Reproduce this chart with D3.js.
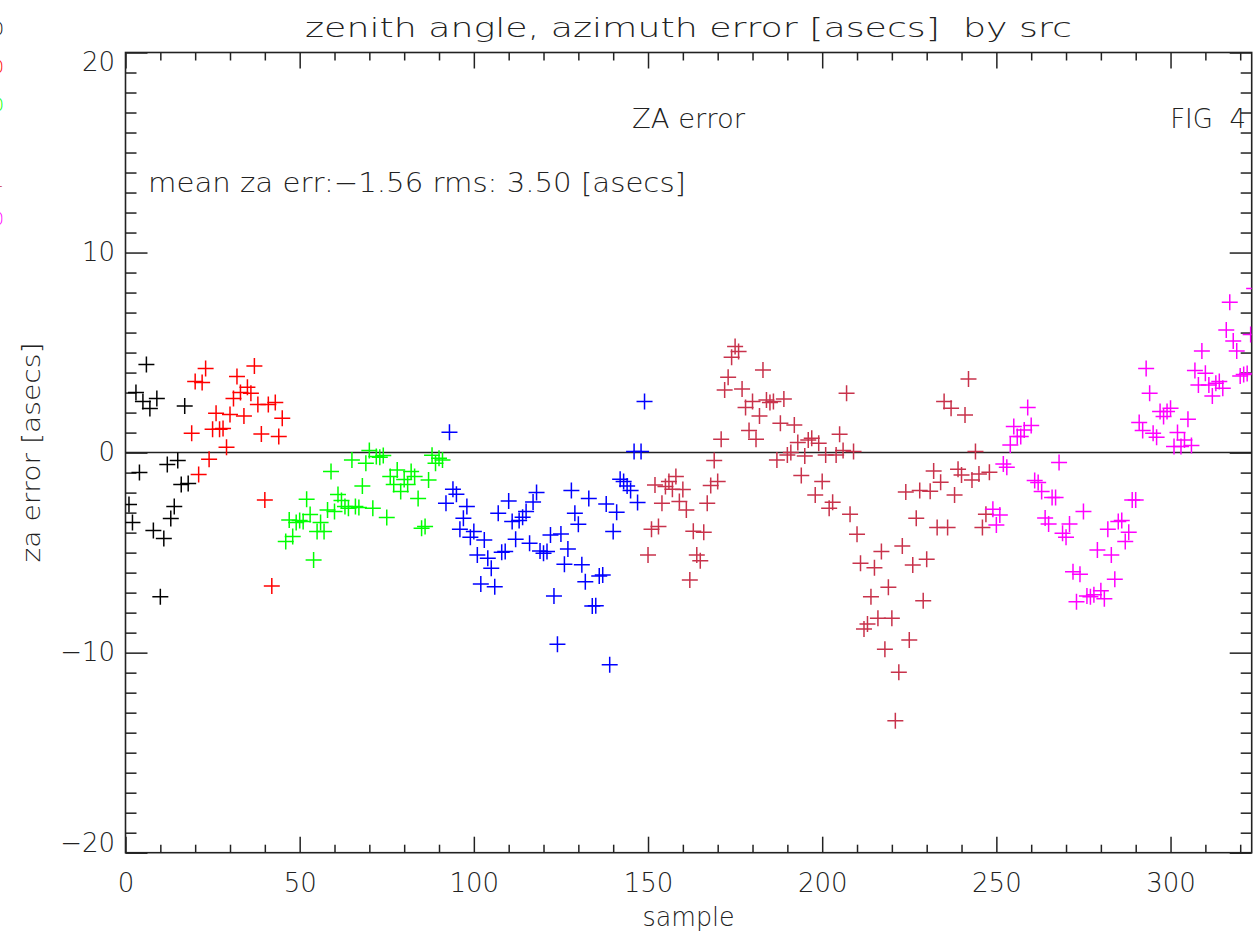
<!DOCTYPE html>
<html><head><meta charset="utf-8">
<script src="https://cdn.jsdelivr.net/npm/d3@7"></script>
<style>
body{margin:0;background:#fff}
svg{display:block}
text{font-family:"DejaVu Sans","Liberation Sans",sans-serif;font-weight:200;fill:#222;white-space:pre}
</style>
</head><body>
<svg id="chart" width="1259" height="939"></svg>
<script>
// ---------------- data ----------------
const sourceLabels = ["src 1: 0", "src 2: 0", "src 3: 0", "src 4:\u00a0\u00a0", "src 5: 1", "src 6: 0"];
const startSample = [1, 19, 46, 92, 150, 249];

const zaErrSrc0 = [-2.6,-3.5,3.0,-1.0,2.55,4.4,2.2,-3.9,2.7,-7.2,-4.3,-0.6,-3.3,-2.7,-0.4,-1.6,2.33,-1.55];
const zaErrSrc1 = [0.97,3.55,-1.1,3.5,4.2,-0.33,1.17,1.97,1.17,1.2,0.27,1.9,2.7,3.8,3.0,1.83,3.27,2.97,4.33,2.4,0.93,-2.37,2.4,-6.67,2.5,0.8,1.72];
const zaErrSrc2 = [-4.45,-3.37,-4.2,-3.5,-3.4,-3.45,-2.33,-3.1,-5.37,-3.95,-3.5,-3.95,-2.87,-0.95,-2.95,-2.1,-2.4,-2.7,-2.78,-0.37,-2.7,-2.75,-1.67,-0.53,0.1,-2.78,-0.2,-0.23,-0.15,-3.25,-1.2,-1.6,-0.87,-1.95,-1.35,-1.6,-0.95,-1.2,-2.3,-3.78,-3.7,-1.37,-0.13,-0.53,-0.28,-0.37];
const zaErrSrc3 = [-2.53,1.02,-1.83,-2.08,-3.83,-3.28,-2.7,-4.23,-3.95,-5.12,-6.57,-4.37,-5.28,-5.78,-6.7,-3.03,-4.98,-4.95,-2.42,-3.45,-4.33,-3.4,-3.23,-2.95,-4.53,-2.47,-2.0,-4.92,-5.03,-4.95,-4.12,-7.17,-9.58,-4.07,-5.58,-4.82,-1.9,-3.03,-3.58,-5.6,-6.45,-2.3,-7.67,-7.65,-6.17,-6.12,-2.57,-10.6,-3.95,-2.98,-1.33,-1.45,-1.67,-1.9,0.05,-2.5,0.05,2.55];
const zaErrSrc4 = [-5.12,-3.83,-1.62,-3.7,-2.53,-1.7,-1.45,-1.83,-1.2,-2.45,-1.85,-2.87,-6.37,-3.93,-5.12,-5.4,-3.98,-2.53,-1.65,-0.4,-1.45,0.67,3.13,3.77,4.77,5.3,5.05,3.18,2.25,1.1,2.55,0.67,1.83,4.13,2.63,2.5,2.55,-0.37,1.47,2.68,-0.12,0.0,1.38,0.5,-1.15,-0.17,0.63,0.72,-2.12,0.47,-1.45,-0.12,-2.78,-2.48,-0.12,0.92,0.1,2.97,-3.08,0.05,-4.08,-5.53,-8.82,-8.57,-7.2,-5.75,-8.28,-4.95,-9.83,-6.73,-8.28,-13.4,-10.98,-4.67,-1.97,-9.37,-5.62,-3.28,-1.9,-7.4,-5.33,-1.93,-0.92,-3.75,-1.48,2.55,-3.75,2.22,-2.12,-0.83,-1.12,1.88,3.68,-1.37,0.05,-1.07,-3.75,-3.08,-0.98];
const zaErrSrc5 = [-2.83,-3.62,-3.12,-0.57,-0.73,0.38,1.3,0.8,0.8,1.13,2.25,1.35,-1.4,-1.5,-1.95,-3.27,-3.57,-2.25,-2.25,-0.5,-4.03,-4.23,-3.57,-5.95,-7.45,-6.08,-2.95,-7.17,-7.2,-7.1,-4.87,-6.9,-7.3,-3.83,-5.12,-6.33,-3.45,-3.4,-4.45,-3.98,-2.37,-2.37,1.5,1.1,4.2,2.97,0.97,0.77,2.05,1.8,2.05,2.22,0.3,1.0,0.3,0.63,1.67,0.35,4.1,3.38,5.08,3.97,3.38,2.83,3.47,3.55,3.22,6.13,7.52,5.58,5.08,3.83,3.9,3.95,5.9,8.2];

const seriesValues = [zaErrSrc0, zaErrSrc1, zaErrSrc2, zaErrSrc3, zaErrSrc4, zaErrSrc5];
const xMajorTicks = [0, 50, 100, 150, 200, 250, 300];
const yMajorTicks = [-20, -10, 0, 10, 20];
const xDomain = [0, 323.3];
const yDomain = [-20, 20];

const titleText = "zenith angle, azimuth error [asecs]  by src";
const xLabelText = "sample";
const yLabelText = "za error [asecs]";
const panelText = "ZA error";
const figText = "FIG  4";
const statsText = "mean za err:\u22121.56 rms: 3.50 [asecs]";

// ---------------- styles ----------------
const colors = ["#000000", "#ff0000", "#00ff00", "#0000ff", "#c8324b", "#ff00ff"];
const W = 1259, H = 939;
const L = 125.5, R = 1251.7, T = 52.5, B = 852.7;
const FS = 26;

const svg = d3.select("#chart");
svg.append("rect").attr("width", W).attr("height", H).attr("fill", "#fff");

const x = d3.scaleLinear().domain(xDomain).range([L, R]);
const y = d3.scaleLinear().domain(yDomain).range([B, T]);

const fmt = d => d < 0 ? "\u2212" + Math.abs(d) : String(d);
const xMinor = d3.range(0, 321, 10).filter(v => !xMajorTicks.includes(v));
const yMinor = d3.range(-20, 21, 1).filter(v => !yMajorTicks.includes(v));

function styleAxis(g) {
  g.select(".domain").remove();
  g.selectAll(".tick line").attr("stroke", "#222").attr("stroke-width", 1.5);
  g.selectAll(".tick text").attr("font-size", FS).attr("fill", "#222")
    .attr("font-family", null).style("font-weight", 200);
}

// bottom axis
svg.append("g").attr("transform", `translate(0,${B})`)
  .call(d3.axisBottom(x).tickValues(xMajorTicks).tickSize(-16).tickPadding(20.8).tickFormat(fmt))
  .call(styleAxis);
svg.append("g").attr("transform", `translate(0,${B})`)
  .call(d3.axisBottom(x).tickValues(xMinor).tickSize(-8).tickFormat(""))
  .call(styleAxis);
// top axis
svg.append("g").attr("transform", `translate(0,${T})`)
  .call(d3.axisTop(x).tickValues(xMajorTicks).tickSize(-16).tickFormat(""))
  .call(styleAxis);
svg.append("g").attr("transform", `translate(0,${T})`)
  .call(d3.axisTop(x).tickValues(xMinor).tickSize(-8).tickFormat(""))
  .call(styleAxis);
// left axis
const gl = svg.append("g").attr("transform", `translate(${L},0)`)
  .call(d3.axisLeft(y).tickValues(yMajorTicks).tickSize(-22).tickPadding(10.5).tickFormat(fmt))
  .call(styleAxis);
gl.selectAll(".tick text").attr("dy", d => d === 20 ? "0.7em" : d === -20 ? "-0.06em" : "0.32em");
svg.append("g").attr("transform", `translate(${L},0)`)
  .call(d3.axisLeft(y).tickValues(yMinor).tickSize(-11).tickFormat(""))
  .call(styleAxis);
// right axis
svg.append("g").attr("transform", `translate(${R},0)`)
  .call(d3.axisRight(y).tickValues(yMajorTicks).tickSize(-22).tickFormat(""))
  .call(styleAxis);
svg.append("g").attr("transform", `translate(${R},0)`)
  .call(d3.axisRight(y).tickValues(yMinor).tickSize(-11).tickFormat(""))
  .call(styleAxis);

// frame
svg.append("rect").attr("x", L).attr("y", T).attr("width", R - L).attr("height", B - T)
  .attr("fill", "none").attr("stroke", "#222").attr("stroke-width", 1.6);

// zero line
svg.append("line").attr("x1", L).attr("x2", R).attr("y1", y(0)).attr("y2", y(0))
  .attr("stroke", "#222").attr("stroke-width", 1.5);

// clip
svg.append("defs").append("clipPath").attr("id", "plotclip")
  .append("rect").attr("x", L).attr("y", T).attr("width", R - L).attr("height", B - T);

// points
const points = [];
seriesValues.forEach((vals, si) => {
  vals.forEach((v, i) => points.push({s: startSample[si] + i, v: v, src: si}));
});
const arm = 8;
svg.append("g").attr("clip-path", "url(#plotclip)")
  .selectAll("path").data(points).join("path")
  .attr("d", d => {
    const px = x(d.s), py = y(d.v);
    return `M${px - arm},${py}H${px + arm}M${px},${py - arm}V${py + arm}`;
  })
  .attr("fill", "none")
  .attr("stroke", d => colors[d.src])
  .attr("stroke-width", 1.5);

// texts
svg.append("text").attr("x", 688.5).attr("y", 37).attr("text-anchor", "middle")
  .attr("font-size", 27).attr("textLength", 767).attr("lengthAdjust", "spacingAndGlyphs").text(titleText);
svg.append("text").attr("x", x(161.65)).attr("y", 926).attr("text-anchor", "middle")
  .attr("font-size", FS).attr("textLength", 92).attr("lengthAdjust", "spacingAndGlyphs").text(xLabelText);
svg.append("text").attr("transform", `translate(40,${y(0)}) rotate(-90)`).attr("text-anchor", "middle")
  .attr("font-size", 25).attr("textLength", 220).attr("lengthAdjust", "spacingAndGlyphs").text(yLabelText);
svg.append("text").attr("x", 688.5).attr("y", 128).attr("text-anchor", "middle")
  .attr("font-size", FS).attr("textLength", 113).attr("lengthAdjust", "spacingAndGlyphs").text(panelText);
svg.append("text").attr("x", 1246).attr("y", 128).attr("text-anchor", "end")
  .attr("font-size", FS).text(figText);
svg.append("text").attr("x", 148).attr("y", 192)
  .attr("font-size", FS).attr("textLength", 538).attr("lengthAdjust", "spacingAndGlyphs").text(statsText);

// legend labels, cut by the left edge as in the reference
const legendBase = [35, 73, 111, 149, 187, 225];
svg.append("g").selectAll("text").data(sourceLabels).join("text")
  .attr("x", 4).attr("y", (d, i) => legendBase[i])
  .attr("text-anchor", "end").attr("font-size", 18)
  .style("fill", (d, i) => colors[i])
  .text(d => d);
</script>
</body></html>
